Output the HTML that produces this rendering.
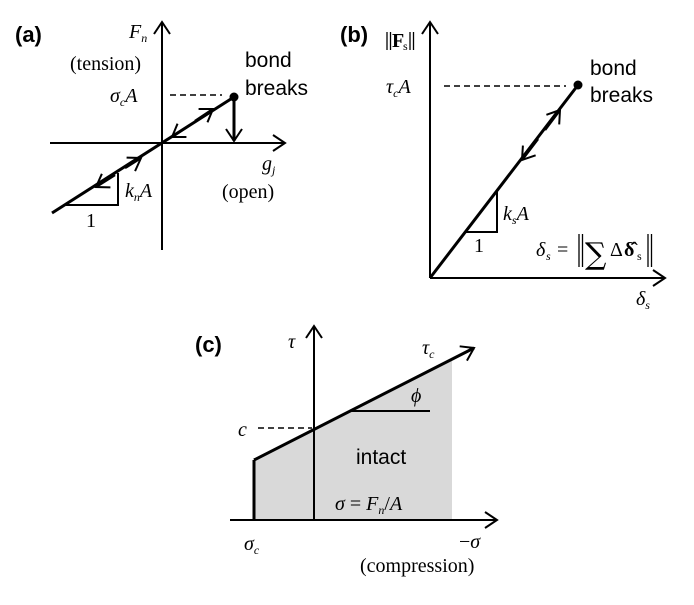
<!DOCTYPE html>
<html><head><style>
html,body{margin:0;padding:0;background:#fff;}
svg{display:block}
.s{font-family:"Liberation Serif",serif;font-size:20px;}
.i{font-family:"Liberation Serif",serif;font-style:italic;font-size:20px;}
.b{font-family:"Liberation Sans",sans-serif;font-size:21px;}
.h{font-family:"Liberation Sans",sans-serif;font-weight:bold;font-size:22px;}
.sub{font-size:12px;}
</style></head><body>
<svg width="694" height="605" viewBox="0 0 694 605" xmlns="http://www.w3.org/2000/svg">
<defs>
<marker id="a" markerWidth="16" markerHeight="18" refX="13" refY="9" orient="auto" markerUnits="userSpaceOnUse">
<path d="M1,1 L13,9 L1,17" fill="none" stroke="#000" stroke-width="2"/>
</marker>
</defs>
<g stroke="#000" fill="none">
<!-- (a) -->
<line x1="162" y1="250" x2="162" y2="22" stroke-width="2" marker-end="url(#a)"/>
<line x1="50" y1="143" x2="285" y2="143" stroke-width="2" marker-end="url(#a)"/>
<line x1="52" y1="213" x2="234" y2="97" stroke-width="3"/>
<line x1="234" y1="97" x2="234" y2="141" stroke-width="3" marker-end="url(#a)"/>
<line x1="170" y1="95" x2="222" y2="95" stroke-width="1.5" stroke-dasharray="6,4"/>
<line x1="195" y1="121" x2="213" y2="109" stroke-width="2.5" marker-end="url(#a)"/>
<line x1="190" y1="125" x2="172" y2="137" stroke-width="2.5" marker-end="url(#a)"/>
<line x1="125" y1="168" x2="141" y2="158" stroke-width="2.5" marker-end="url(#a)"/>
<line x1="115" y1="175" x2="96" y2="187" stroke-width="2.5" marker-end="url(#a)"/>
<polyline points="66,205 118,205 118,173" stroke-width="2"/>
<!-- (b) -->
<line x1="430" y1="278" x2="430" y2="22" stroke-width="2" marker-end="url(#a)"/>
<line x1="430" y1="278" x2="665" y2="278" stroke-width="2" marker-end="url(#a)"/>
<line x1="430" y1="278" x2="578" y2="85" stroke-width="3"/>
<line x1="545" y1="130" x2="560" y2="110" stroke-width="2.5" marker-end="url(#a)"/>
<line x1="538" y1="139" x2="522" y2="160" stroke-width="2.5" marker-end="url(#a)"/>
<line x1="444" y1="86" x2="566" y2="86" stroke-width="1.5" stroke-dasharray="6,4"/>
<polyline points="466,232 497,232 497,192" stroke-width="2"/>
<!-- norm bars -->
<g stroke-width="1.3">
<line x1="387" y1="32" x2="387" y2="50"/><line x1="390.5" y1="32" x2="390.5" y2="50"/>
<line x1="410" y1="32" x2="410" y2="50"/><line x1="413.5" y1="32" x2="413.5" y2="50"/>
<line x1="579" y1="234" x2="579" y2="267"/><line x1="582.5" y1="234" x2="582.5" y2="267"/>
<line x1="648" y1="234" x2="648" y2="267"/><line x1="651.5" y1="234" x2="651.5" y2="267"/>
</g>
<!-- (c) -->
<polygon points="254,520 254,460 452,359 452,520" fill="#d9d9d9" stroke="none"/>
<line x1="314" y1="520" x2="314" y2="326" stroke-width="2" marker-end="url(#a)"/>
<line x1="230" y1="520" x2="497" y2="520" stroke-width="2" marker-end="url(#a)"/>
<line x1="254" y1="460" x2="474" y2="348" stroke-width="3" marker-end="url(#a)"/>
<line x1="254" y1="460" x2="254" y2="520" stroke-width="3"/>
<line x1="258" y1="428" x2="312" y2="428" stroke-width="1.5" stroke-dasharray="6,4"/>
<line x1="314" y1="432" x2="314" y2="520" stroke-width="1.5" stroke-dasharray="6,4"/>
<line x1="350" y1="411" x2="430" y2="411" stroke-width="2"/>
</g>
<g fill="#000">
<circle cx="234" cy="97" r="4.5"/>
<circle cx="578" cy="85" r="4.5"/>
<text x="15" y="42" class="h">(a)</text>
<text x="129" y="38" class="i">F<tspan class="sub" dy="4">n</tspan></text>
<text x="70" y="70" class="s">(tension)</text>
<text x="110" y="102" class="i">σ<tspan class="sub" dy="4">c</tspan><tspan dy="-4">A</tspan></text>
<text x="245" y="67" class="b">bond</text>
<text x="245" y="95" class="b">breaks</text>
<text x="262" y="170" class="i">g<tspan class="sub" dy="4">j</tspan></text>
<text x="222" y="198" class="s">(open)</text>
<text x="125" y="197" class="i">k<tspan class="sub" dy="4">n</tspan><tspan dy="-4">A</tspan></text>
<text x="86" y="227" class="s">1</text>

<text x="340" y="42" class="h">(b)</text>
<text x="392" y="47" class="s" font-weight="bold">F</text>
<text x="403" y="50" class="s sub">s</text>
<text x="386" y="93" class="i">τ<tspan class="sub" dy="4">c</tspan><tspan dy="-4">A</tspan></text>
<text x="590" y="75" class="b">bond</text>
<text x="590" y="102" class="b">breaks</text>
<text x="503" y="220" class="i">k<tspan class="sub" dy="4">s</tspan><tspan dy="-4">A</tspan></text>
<text x="474" y="252" class="s">1</text>
<text x="536" y="256" class="i">δ</text>
<text x="546" y="260" class="i sub">s</text>
<text x="557" y="256" class="s">=</text>
<text x="585" y="264" font-family="DejaVu Serif, serif" font-size="30">∑</text>
<text x="610" y="256" class="s">Δ</text>
<text x="624" y="256" class="s" font-weight="bold">δ̂</text>
<text x="637" y="260" class="s sub">s</text>
<text x="636" y="305" class="i">δ<tspan class="sub" dy="4">s</tspan></text>

<text x="195" y="352" class="h">(c)</text>
<text x="288" y="348" class="i">τ</text>
<text x="422" y="354" class="i">τ<tspan class="sub" dy="4">c</tspan></text>
<text x="411" y="402" class="i">ϕ</text>
<text x="238" y="436" class="i">c</text>
<text x="356" y="464" class="b">intact</text>
<text x="335" y="510" class="i">σ <tspan font-style="normal">=</tspan> F<tspan class="sub" dy="4">n</tspan><tspan dy="-4" font-style="normal">/</tspan>A</text>
<text x="244" y="550" class="i">σ<tspan class="sub" dy="4">c</tspan></text>
<text x="459" y="548" class="i"><tspan font-style="normal">−</tspan>σ</text>
<text x="360" y="572" class="s">(compression)</text>
</g>
</svg>
</body></html>
